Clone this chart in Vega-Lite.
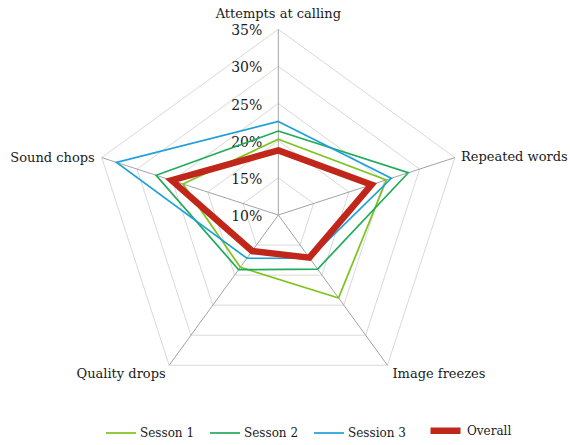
{
  "$schema": "https://vega.github.io/schema/vega-lite/v6.json",
  "width": 570,
  "height": 445,
  "autosize": {"type": "none"},
  "padding": 0,
  "background": "white",
  "config": {
    "view": {"stroke": null},
    "font": "DejaVu Serif",
    "legend": {
      "orient": "none",
      "direction": "horizontal",
      "legendX": 105,
      "legendY": 412,
      "padding": 0,
      "title": null,
      "symbolType": "stroke",
      "symbolSize": 900,
      "labelFont": "DejaVu Serif",
      "labelFontSize": 12,
      "labelColor": "#1a1a1a",
      "labelOffset": 3,
      "columnPadding": 11
    }
  },
  "datasets": {
    "axes": [
      {"axis": "Attempts at calling", "idx": 0, "levels": [15, 20, 25, 30, 35]},
      {"axis": "Repeated words", "idx": 1, "levels": [15, 20, 25, 30, 35]},
      {"axis": "Image freezes", "idx": 2, "levels": [15, 20, 25, 30, 35]},
      {"axis": "Quality drops", "idx": 3, "levels": [15, 20, 25, 30, 35]},
      {"axis": "Sound chops", "idx": 4, "levels": [15, 20, 25, 30, 35]}
    ],
    "ticks": [
      {"level": 10}, {"level": 15}, {"level": 20}, {"level": 25}, {"level": 30}, {"level": 35}
    ],
    "values": [
      {"series": "Sesson 1", "axis": "Attempts at calling", "idx": 0, "value": 20.2},
      {"series": "Sesson 1", "axis": "Repeated words", "idx": 1, "value": 25.3},
      {"series": "Sesson 1", "axis": "Image freezes", "idx": 2, "value": 23.8},
      {"series": "Sesson 1", "axis": "Quality drops", "idx": 3, "value": 18.7},
      {"series": "Sesson 1", "axis": "Sound chops", "idx": 4, "value": 23.5},
      {"series": "Sesson 2", "axis": "Attempts at calling", "idx": 0, "value": 21.3},
      {"series": "Sesson 2", "axis": "Repeated words", "idx": 1, "value": 28.4},
      {"series": "Sesson 2", "axis": "Image freezes", "idx": 2, "value": 19.0},
      {"series": "Sesson 2", "axis": "Quality drops", "idx": 3, "value": 19.1},
      {"series": "Sesson 2", "axis": "Sound chops", "idx": 4, "value": 27.3},
      {"series": "Session 3", "axis": "Attempts at calling", "idx": 0, "value": 22.6},
      {"series": "Session 3", "axis": "Repeated words", "idx": 1, "value": 26.0},
      {"series": "Session 3", "axis": "Image freezes", "idx": 2, "value": 17.2},
      {"series": "Session 3", "axis": "Quality drops", "idx": 3, "value": 17.2},
      {"series": "Session 3", "axis": "Sound chops", "idx": 4, "value": 32.9},
      {"series": "Overall", "axis": "Attempts at calling", "idx": 0, "value": 18.7},
      {"series": "Overall", "axis": "Repeated words", "idx": 1, "value": 23.2},
      {"series": "Overall", "axis": "Image freezes", "idx": 2, "value": 17.1},
      {"series": "Overall", "axis": "Quality drops", "idx": 3, "value": 16.0},
      {"series": "Overall", "axis": "Sound chops", "idx": 4, "value": 25.1}
    ]
  },
  "encoding": {
    "x": {"field": "px", "type": "quantitative", "axis": null, "scale": {"domain": [-37.47, 39.27], "nice": false, "zero": false}},
    "y": {"field": "py", "type": "quantitative", "axis": null, "scale": {"domain": [-30.96, 28.94], "nice": false, "zero": false}}
  },
  "layer": [
    {
      "data": {"name": "axes"},
      "transform": [
        {"flatten": ["levels"], "as": ["level"]},
        {"calculate": "PI/2 - datum.idx*2*PI/5", "as": "ang"},
        {"calculate": "(datum.level-10)*cos(datum.ang)", "as": "px"},
        {"calculate": "(datum.level-10)*sin(datum.ang)", "as": "py"}
      ],
      "mark": {"type": "line", "interpolate": "linear-closed", "color": "#d9d9d9", "strokeWidth": 1},
      "encoding": {
        "detail": {"field": "level", "type": "nominal"},
        "order": {"field": "idx", "type": "quantitative"}
      }
    },
    {
      "data": {"name": "axes"},
      "transform": [
        {"calculate": "PI/2 - datum.idx*2*PI/5", "as": "ang"},
        {"calculate": "25*cos(datum.ang)", "as": "px"},
        {"calculate": "25*sin(datum.ang)", "as": "py"}
      ],
      "mark": {"type": "rule", "color": "#a3a3a3", "strokeWidth": 1},
      "encoding": {
        "x": {"datum": 0, "type": "quantitative"},
        "y": {"datum": 0, "type": "quantitative"},
        "x2": {"field": "px"},
        "y2": {"field": "py"}
      }
    },
    {
      "data": {"name": "ticks"},
      "transform": [
        {"calculate": "0", "as": "px"},
        {"calculate": "datum.level-10", "as": "py"},
        {"calculate": "datum.level + '%'", "as": "lbl"}
      ],
      "mark": {"type": "text", "align": "right", "baseline": "middle", "dx": -16, "dy": 2, "fontSize": 14, "font": "DejaVu Serif", "color": "#1a1a1a"},
      "encoding": {"text": {"field": "lbl"}}
    },
    {
      "data": {"name": "values"},
      "transform": [
        {"calculate": "PI/2 - datum.idx*2*PI/5", "as": "ang"},
        {"calculate": "(datum.value-10)*cos(datum.ang)", "as": "px"},
        {"calculate": "(datum.value-10)*sin(datum.ang)", "as": "py"}
      ],
      "mark": {"type": "line", "interpolate": "linear-closed"},
      "encoding": {
        "color": {"field": "series", "type": "ordinal", "scale": {"domain": ["Sesson 1", "Sesson 2", "Session 3", "Overall"], "range": ["#7dc31e", "#1fab5a", "#1f9fda", "#c0261a"]}},
        "strokeWidth": {"field": "series", "type": "ordinal", "scale": {"type": "ordinal", "domain": ["Sesson 1", "Sesson 2", "Session 3", "Overall"], "range": [1.7, 1.7, 1.7, 6.5]}},
        "order": {"field": "idx", "type": "quantitative"}
      }
    },
    {
      "data": {"name": "axes"},
      "transform": [
        {"filter": "datum.idx == 0"},
        {"calculate": "0", "as": "px"},
        {"calculate": "25", "as": "py"}
      ],
      "mark": {"type": "text", "align": "center", "baseline": "alphabetic", "dy": -11, "fontSize": 13, "font": "DejaVu Serif", "color": "#1a1a1a"},
      "encoding": {"text": {"field": "axis"}}
    },
    {
      "data": {"name": "axes"},
      "transform": [
        {"filter": "datum.idx == 1"},
        {"calculate": "PI/2 - datum.idx*2*PI/5", "as": "ang"},
        {"calculate": "25*cos(datum.ang)", "as": "px"},
        {"calculate": "25*sin(datum.ang)", "as": "py"}
      ],
      "mark": {"type": "text", "align": "left", "baseline": "alphabetic", "dx": 6, "dy": 3.5, "fontSize": 13, "font": "DejaVu Serif", "color": "#1a1a1a"},
      "encoding": {"text": {"field": "axis"}}
    },
    {
      "data": {"name": "axes"},
      "transform": [
        {"filter": "datum.idx == 2"},
        {"calculate": "PI/2 - datum.idx*2*PI/5", "as": "ang"},
        {"calculate": "25*cos(datum.ang)", "as": "px"},
        {"calculate": "25*sin(datum.ang)", "as": "py"}
      ],
      "mark": {"type": "text", "align": "left", "baseline": "alphabetic", "dx": 5, "dy": 13, "fontSize": 13, "font": "DejaVu Serif", "color": "#1a1a1a"},
      "encoding": {"text": {"field": "axis"}}
    },
    {
      "data": {"name": "axes"},
      "transform": [
        {"filter": "datum.idx == 3"},
        {"calculate": "PI/2 - datum.idx*2*PI/5", "as": "ang"},
        {"calculate": "25*cos(datum.ang)", "as": "px"},
        {"calculate": "25*sin(datum.ang)", "as": "py"}
      ],
      "mark": {"type": "text", "align": "right", "baseline": "alphabetic", "dx": -3.5, "dy": 13, "fontSize": 13, "font": "DejaVu Serif", "color": "#1a1a1a"},
      "encoding": {"text": {"field": "axis"}}
    },
    {
      "data": {"name": "axes"},
      "transform": [
        {"filter": "datum.idx == 4"},
        {"calculate": "PI/2 - datum.idx*2*PI/5", "as": "ang"},
        {"calculate": "25*cos(datum.ang)", "as": "px"},
        {"calculate": "25*sin(datum.ang)", "as": "py"}
      ],
      "mark": {"type": "text", "align": "right", "baseline": "alphabetic", "dx": -7, "dy": 4, "fontSize": 13, "font": "DejaVu Serif", "color": "#1a1a1a"},
      "encoding": {"text": {"field": "axis"}}
    }
  ]
}
